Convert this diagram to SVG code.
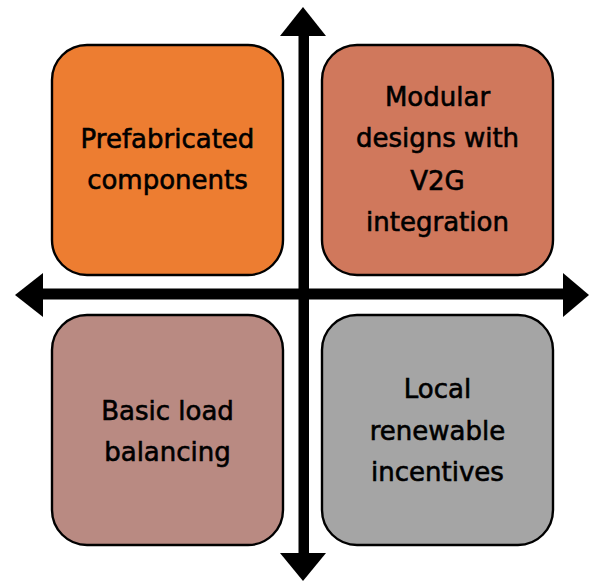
<svg xmlns="http://www.w3.org/2000/svg" width="589" height="581" viewBox="0 0 589 581">
<style>
.box{stroke:#000;stroke-width:2.4}
.lbl{font-family:"DejaVu Sans","Liberation Sans",sans-serif;font-size:26px;fill:#000;stroke:#000;stroke-width:0.6;text-anchor:middle}
.ax{fill:#000}
</style>
<rect width="589" height="581" fill="#fff"/>
<g id="node-prefab">
<rect class="box" x="52" y="45" width="231" height="230" rx="35" fill="#ED7D31"/>
<text class="lbl"><tspan x="167.5" y="148">Prefabricated</tspan><tspan x="167.5" y="189">components</tspan></text>
</g>
<g id="node-modular">
<rect class="box" x="322" y="45" width="231" height="230" rx="35" fill="#D0785C"/>
<text class="lbl"><tspan x="437.5" y="106">Modular</tspan><tspan x="437.5" y="147">designs with</tspan><tspan x="437.5" y="190">V2G</tspan><tspan x="437.5" y="231">integration</tspan></text>
</g>
<g id="node-basic">
<rect class="box" x="52" y="315" width="231" height="230" rx="35" fill="#B98A82"/>
<text class="lbl"><tspan x="167.5" y="420">Basic load</tspan><tspan x="167.5" y="461">balancing</tspan></text>
</g>
<g id="node-local">
<rect class="box" x="322" y="315" width="231" height="230" rx="35" fill="#A5A5A5"/>
<text class="lbl"><tspan x="437.5" y="398">Local</tspan><tspan x="437.5" y="440">renewable</tspan><tspan x="437.5" y="481">incentives</tspan></text>
</g>
<g id="connectors">
<rect class="ax" x="298.5" y="35" width="10.5" height="519"/>
<polygon class="ax" points="303,7 326,36 280,36"/>
<polygon class="ax" points="280,553 326,553 303,581"/>
<rect class="ax" x="42" y="288.5" width="522" height="11"/>
<polygon class="ax" points="15,295 43,273 43,317"/>
<polygon class="ax" points="563,273 589,295 563,317"/>
</g>
</svg>
